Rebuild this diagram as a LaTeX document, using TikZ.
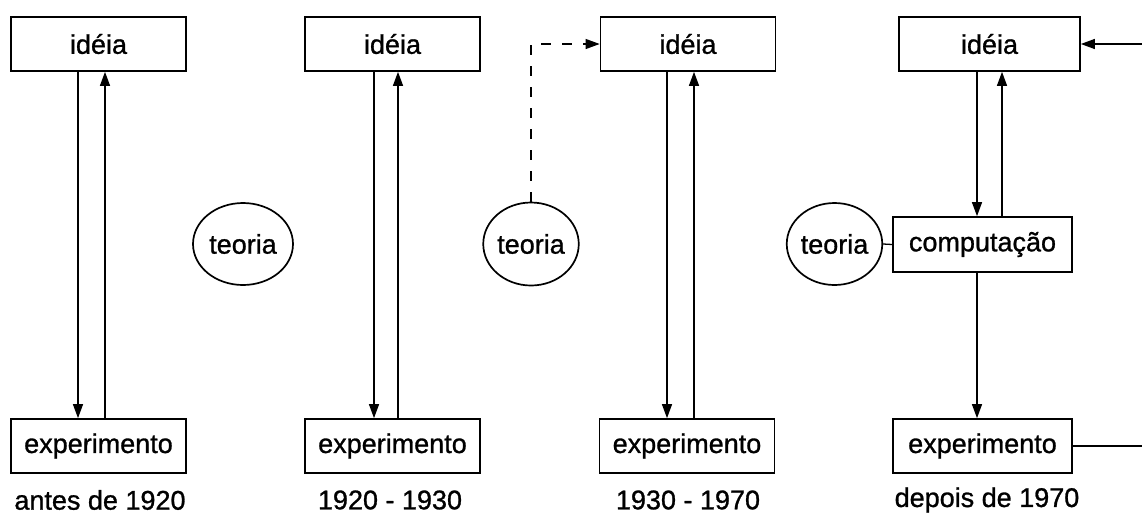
\documentclass[tikz,border=0pt]{standalone}
\usepackage{fontspec}
\setmainfont{Liberation Sans}[FakeBold=1]
\newfontfamily\labelfont{Liberation Sans}[FakeBold=1]
\usetikzlibrary{arrows.meta,shapes.geometric}
\tikzset{
  txt/.style={font=\labelfont\fontsize{27}{31}\selectfont},
  box/.style={draw, line width=1.7pt, minimum width=175pt, minimum height=54pt,
    inner sep=0pt, txt},
  theory/.style={draw, ellipse, line width=1.7pt, inner sep=0pt, txt},
  era/.style={txt, inner sep=0pt},
  flow/.style={line width=1.3pt, -{Triangle[length=14pt,width=10pt]}},
  link/.style={line width=1.3pt},
  hint/.style={line width=1.1pt, dash pattern=on 10pt off 11pt,
    -{Triangle[length=14pt,width=10pt]}}
}
\begin{document}
\begin{tikzpicture}[x=1pt, y=-1pt]
\useasboundingbox (0,0) rectangle (1142,515);

% antes de 1920
\node[box] (idea1) at (98.5,44) {idéia};
\node[box] (exp1) at (98.5,446) {experimento};
\node[era] (era1) at (100,500) {antes de 1920};
\draw[flow] ([xshift=-20.5pt]idea1.south) -- ([xshift=-20.5pt]exp1.north);
\draw[flow] ([xshift=6.5pt]exp1.north) -- ([xshift=6.5pt]idea1.south);
\node[theory, minimum width=100pt, minimum height=82pt] (th1) at (243,244) {teoria};

% 1920 - 1930
\node[box] (idea2) at (392.5,44) {idéia};
\node[box] (exp2) at (392.5,446) {experimento};
\node[era] (era2) at (390,500) {1920 - 1930};
\draw[flow] ([xshift=-18.5pt]idea2.south) -- ([xshift=-18.5pt]exp2.north);
\draw[flow] ([xshift=5.5pt]exp2.north) -- ([xshift=5.5pt]idea2.south);
\node[theory, minimum width=91pt, minimum height=83pt] (th2) at (531,244) {teoria};

% 1930 - 1970
\node[box] (idea3) at (688,44) {idéia};
\node[box] (exp3) at (687,446) {experimento};
\node[era] (era3) at (688,500) {1930 - 1970};
\draw[flow] ([xshift=-21pt]idea3.south) -- ([xshift=-20pt]exp3.north);
\draw[flow] ([xshift=7pt]exp3.north) -- ([xshift=6pt]idea3.south);
\draw[hint] (th2.north) |- (idea3.west);

% depois de 1970
\node[box, minimum width=181pt] (idea4) at (989.5,44) {idéia};
\node[box, minimum width=179pt, minimum height=55pt] (comp4) at (982.5,244.5) {computação};
\node[box, minimum width=179pt] (exp4) at (982.5,446) {experimento};
\node[era] (era4) at (987,500) {depois de 1970};
\node[theory, minimum width=95pt, minimum height=82pt] (th3) at (834.5,244) {teoria};
\draw[flow] ([xshift=-12.5pt]idea4.south) -- (comp4.north -| 977,0);
\draw[flow] (comp4.north -| 1002,0) -- ([xshift=12.5pt]idea4.south);
\draw[flow] (comp4.south -| 977,0) -- (exp4.north -| 977,0);
\draw[link] (th3.east) -- (comp4.west);
\coordinate (back-in) at (1142,44);
\coordinate (back-out) at (1142,446);
\draw[link] (exp4.east) -- (back-out);
\draw[flow] (back-in) -- (idea4.east);
\end{tikzpicture}
\end{document}
